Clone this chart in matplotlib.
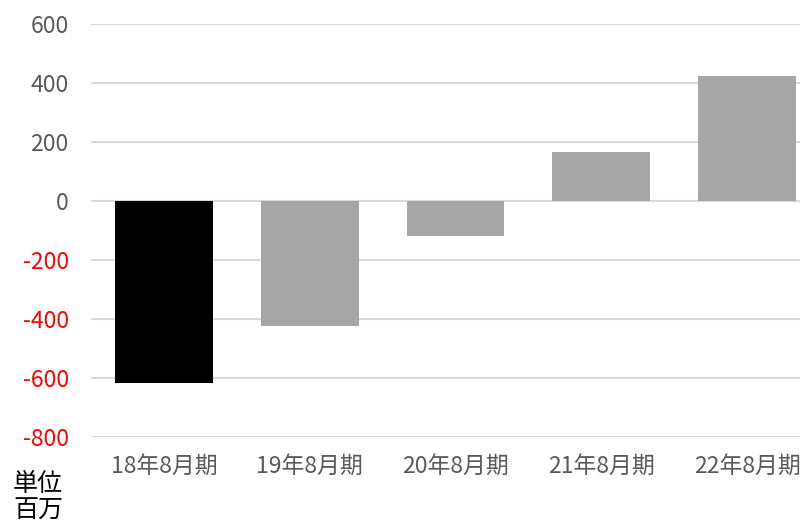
import numpy as np
import matplotlib.pyplot as plt

plt.rcParams['font.family'] = ['Noto Sans CJK JP', 'DejaVu Sans']

periods = ['18年8月期', '19年8月期', '20年8月期', '21年8月期', '22年8月期']
values = [-617, -423, -119, 166, 423]
bar_colors = ['#000000', '#a6a6a6', '#a6a6a6', '#a6a6a6', '#a6a6a6']
yticks = [-800, -600, -400, -200, 0, 200, 400, 600]

fig = plt.figure(figsize=(8, 5.22), dpi=100)
ax = fig.add_axes([91 / 800, 1 - 437 / 522, (800 - 91) / 800, (437 - 24) / 522])

x = np.arange(len(periods))
ax.bar(x, values, width=0.67, color=bar_colors, zorder=2)

ax.set_ylim(-800, 600)
ax.set_xlim(-0.5, 4.5 - 20 / 145.75)
ax.set_yticks(yticks)
ax.set_yticklabels([str(v) for v in yticks], fontsize=16.5)
for lbl, v in zip(ax.get_yticklabels(), yticks):
    lbl.set_color('#ff0000' if v < 0 else '#595959')

ax.set_xticks(x)
ax.set_xticklabels(periods, fontsize=16.5, color='#595959')
ax.tick_params(axis='both', length=0)
ax.tick_params(axis='y', pad=16)
ax.tick_params(axis='x', pad=13)

ax.grid(axis='y', color='#d9d9d9', linewidth=1.5, zorder=0)
for s in ax.spines.values():
    s.set_visible(False)

fig.text(13 / 800, 1 - 471 / 522, '単位\n百万', fontsize=18, color='#000000',
         ha='left', va='top', linespacing=1.02)

fig.savefig('out.png', dpi=100)
